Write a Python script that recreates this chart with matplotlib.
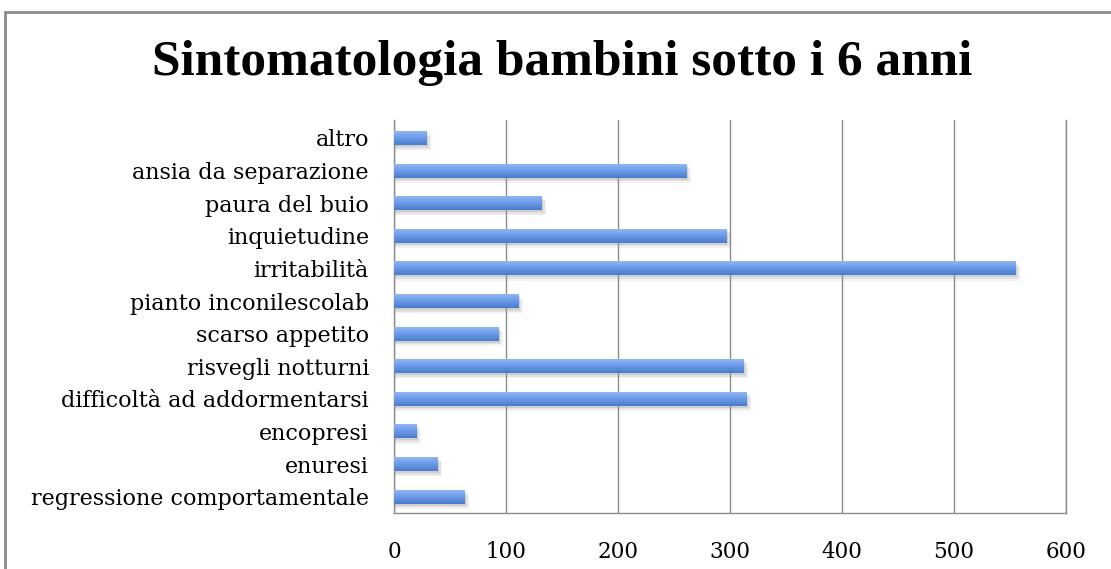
import numpy as np
import matplotlib.pyplot as plt
from matplotlib.patches import Rectangle
from matplotlib.colors import LinearSegmentedColormap

categories = ['regressione comportamentale', 'enuresi', 'encopresi',
              'difficoltà ad addormentarsi', 'risvegli notturni',
              'scarso appetito', 'pianto inconilescolab', 'irritabilità',
              'inquietudine', 'paura del buio', 'ansia da separazione', 'altro']
values = [63, 39, 20, 315, 312, 93, 111, 555, 297, 132, 261, 29]
xticks = [0, 100, 200, 300, 400, 500, 600]

fig = plt.figure(figsize=(11.11, 5.69), dpi=100)
ax = fig.add_axes([0.3546, 0.0984, 0.6049, 0.6906])

# outer chart border (only top and left visible)
fig.patches.append(Rectangle((5 / 1111, -0.1), 1.2, 1.1 - 12 / 569,
                             transform=fig.transFigure, fill=False,
                             edgecolor='#8c8c8c', lw=2, zorder=0))

cmap = LinearSegmentedColormap.from_list('bar', ['#4a7ccc', '#6d9be8', '#95b9f5'])
grad = np.linspace(0, 1, 64).reshape(-1, 1)
h = 0.43
y = np.arange(len(categories))
for yi, v in zip(y, values):
    # soft shadow below the bar
    for k, a in zip((0.16, 0.11, 0.06), (0.12, 0.18, 0.25)):
        ax.add_patch(Rectangle((0, yi - h / 2 - k), v + 4 * k / 0.16, h,
                               color='#9a9a9a', alpha=a, lw=0, zorder=2))
    bar = Rectangle((0, yi - h / 2), v, h, facecolor='none', lw=0, zorder=3)
    ax.add_patch(bar)
    im = ax.imshow(grad, cmap=cmap, aspect='auto', origin='lower',
                   extent=(0, v, yi - h / 2, yi + h / 2), zorder=3,
                   interpolation='bilinear')
    im.set_clip_path(bar)

ax.set_xlim(0, 600)
ax.set_ylim(-0.5, 11.55)
ax.set_xticks(xticks)
ax.set_xticklabels([str(t) for t in xticks], family='DejaVu Serif', fontsize=15.5)
ax.set_yticks(y)
ax.set_yticklabels(categories, family='DejaVu Serif', fontsize=16)
ax.tick_params(axis='both', length=0)
ax.tick_params(axis='x', pad=20)
ax.tick_params(axis='y', pad=18)
ax.xaxis.grid(True, color='#8c8c8c', lw=1)
ax.set_axisbelow(True)
ax.spines['top'].set_visible(False)
for s in ('left', 'bottom', 'right'):
    ax.spines[s].set_color('#8c8c8c')
    ax.spines[s].set_linewidth(1)

fig.text(0.506, 0.889, 'Sintomatologia bambini sotto i 6 anni',
         ha='center', va='center', fontsize=37, fontweight='bold',
         family='Liberation Serif')

fig.savefig('out.png', dpi=100)
